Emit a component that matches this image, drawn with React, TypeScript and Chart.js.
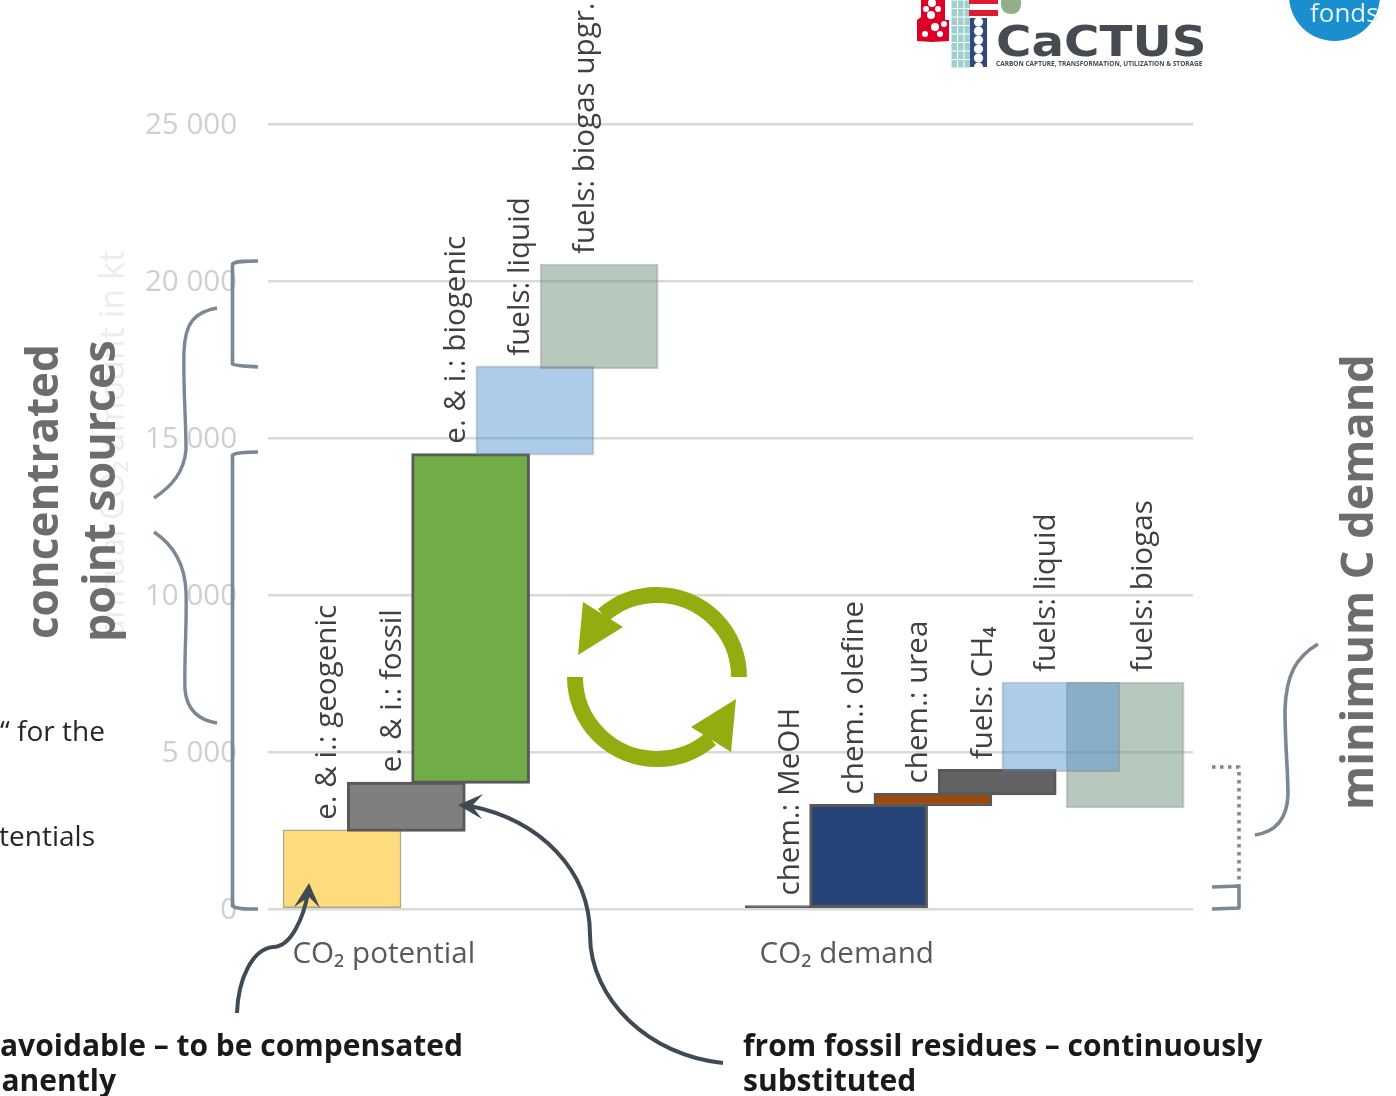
import React, { useEffect, useRef } from "react";
import { Chart, registerables } from "chart.js";

Chart.register(...registerables);

const barLabels = [
  "e. & i.: geogenic",
  "e. & i.: fossil",
  "e. & i.: biogenic",
  "fuels: liquid",
  "fuels: biogas upgr.",
  "chem.: MeOH",
  "chem.: olefine",
  "chem.: urea",
  "fuels: CH₄",
  "fuels: biogas",
  "fuels: liquid",
];
const barPositions = [1, 2, 3, 4, 5, 8.19, 9.19, 10.19, 11.19, 13.18, 12.18];
const barLows = [0, 2470, 4000, 14450, 17200, 0, 0, 3280, 3630, 3220, 4370];
const barHighs = [2520, 4040, 14500, 17300, 20540, 110, 3330, 3680, 4450, 7230, 7230];
const barFills = [
  "#FEDB7C",
  "#7F7F7F",
  "#70AD47",
  "rgba(84,149,211,0.48)",
  "rgba(112,146,124,0.5)",
  "#595959",
  "#264478",
  "#9E480E",
  "#636363",
  "rgba(112,146,124,0.5)",
  "rgba(84,149,211,0.48)",
];
const barEdges = [
  "#ABA791",
  "#595959",
  "#595959",
  "rgba(120,120,120,0.4)",
  "rgba(120,120,120,0.4)",
  "#595959",
  "#595959",
  "#595959",
  "#595959",
  "rgba(120,120,120,0.4)",
  "rgba(120,120,120,0.4)",
];
const barEdgeWidths = [1.5, 3, 3, 1.5, 1.5, 3, 3, 2.5, 3, 1.5, 1.5];
const xTickValues = [1.65, 8.85];
const xTickLabels = ["CO₂ potential", "CO₂ demand"];
const yAxisTitle = "annual CO₂ amount in kt";

const SANS = '"Open Sans", sans-serif';
const STEEL = "#7B8893";
const INK = "#3F4A54";
const SPIN = "#92AD10";

const rotatedText = (ctx: any, text: string, x: number, y: number) => {
  ctx.save();
  ctx.translate(x, y);
  ctx.rotate(-Math.PI / 2);
  ctx.fillText(text, 0, 0);
  ctx.restore();
};

const curve = (ctx: any, points: number[][], width: number, color: string, dash?: number[]) => {
  ctx.save();
  ctx.strokeStyle = color;
  ctx.lineWidth = width;
  ctx.lineCap = "butt";
  ctx.lineJoin = "round";
  if (dash) ctx.setLineDash(dash);
  ctx.beginPath();
  points.forEach((p, i) => {
    if (i === 0) ctx.moveTo(p[0], p[1]);
    else if (p.length === 2) ctx.lineTo(p[0], p[1]);
    else ctx.bezierCurveTo(p[0], p[1], p[2], p[3], p[4], p[5]);
  });
  ctx.stroke();
  ctx.restore();
};

const poly = (ctx: any, points: number[][], color: string) => {
  ctx.fillStyle = color;
  ctx.beginPath();
  points.forEach((p, i) => (i ? ctx.lineTo(p[0], p[1]) : ctx.moveTo(p[0], p[1])));
  ctx.closePath();
  ctx.fill();
};

const drawLogos = (ctx: any) => {
  ctx.save();
  // red blob
  poly(ctx, [[921, 0], [945, 0], [945, 20], [949, 20], [949, 41], [932, 42], [917, 41], [917, 20], [921, 17]], "#DC0028");
  ctx.fillStyle = "#fff";
  [[932, 3, 4], [931, 15, 4], [938, 9, 3], [926, 9, 3], [935, 27, 4], [925, 34, 3], [940, 34, 3], [944, 24, 3]].forEach(([x, y, r]) => {
    ctx.beginPath();
    ctx.arc(x, y, r, 0, Math.PI * 2);
    ctx.fill();
  });
  // teal net
  ctx.fillStyle = "#9DD0CF";
  for (let c = 0; c < 3; c++)
    for (let r = 0; r < 8; r++) ctx.fillRect(951.5 + c * 6.5, r * 8.5 + 0.5, 5.5, 7.5);
  // stripes
  ctx.fillStyle = "#DC1C33";
  ctx.fillRect(969, 0, 29, 4);
  ctx.fillRect(969, 10, 29, 6);
  // green shape
  ctx.fillStyle = "#8FB089";
  ctx.beginPath();
  ctx.moveTo(1001, 0);
  ctx.lineTo(1021, 0);
  ctx.lineTo(1021, 5);
  ctx.quadraticCurveTo(1020, 14, 1011, 14);
  ctx.quadraticCurveTo(1002, 14, 1001, 5);
  ctx.closePath();
  ctx.fill();
  // navy dots
  ctx.fillStyle = "#2F4A7A";
  ctx.fillRect(970, 18, 17, 49);
  ctx.fillStyle = "#fff";
  for (let i = 0; i < 6; i++) {
    ctx.beginPath();
    ctx.arc(978.5, 22 + i * 9, 4.6, 0, Math.PI * 2);
    ctx.fill();
  }
  // word mark
  ctx.fillStyle = "#454B50";
  ctx.save();
  ctx.translate(996, 56);
  ctx.scale(1.15, 1);
  ctx.font = 'bold 42px "DejaVu Sans", sans-serif';
  ctx.textAlign = "left";
  ctx.textBaseline = "alphabetic";
  ctx.fillText("CaCTUS", 0, 0);
  ctx.restore();
  ctx.font = 'bold 6.5px "Open Sans", sans-serif';
  ctx.textAlign = "left";
  ctx.textBaseline = "alphabetic";
  ctx.fillText("CARBON CAPTURE, TRANSFORMATION, UTILIZATION & STORAGE", 996, 66);
  // round badge
  ctx.fillStyle = "#1B8FCD";
  ctx.beginPath();
  ctx.arc(1334.5, -4.5, 45.5, 0, Math.PI * 2);
  ctx.fill();
  ctx.fillStyle = "#E4F2FA";
  ctx.font = '26px "Open Sans", sans-serif';
  ctx.fillText("fonds", 1310, 22);
  ctx.restore();
};

const drawCycle = (ctx: any) => {
  const cx = 657;
  const cy = 677;
  [0, Math.PI].forEach((rot) => {
    ctx.save();
    ctx.translate(cx, cy);
    ctx.rotate(rot);
    ctx.strokeStyle = SPIN;
    ctx.lineWidth = 16;
    ctx.beginPath();
    ctx.arc(0, 0, 82, 0, (-131 * Math.PI) / 180, true);
    ctx.stroke();
    poly(ctx, [[-74, -75], [-79, -22], [-34, -50]], SPIN);
    ctx.restore();
  });
};

const annotations = {
  id: "annotations",
  afterDraw(chart: any) {
    const ctx = chart.ctx;
    ctx.save();

    // bar captions follow the bars
    const bars = chart.getDatasetMeta(0).data;
    ctx.font = `29.6px ${SANS}`;
    ctx.fillStyle = "#404040";
    ctx.textAlign = "left";
    ctx.textBaseline = "middle";
    bars.forEach((el: any, i: number) => {
      const shift = barLabels[i] === "fuels: biogas" ? 18 : -14;
      rotatedText(ctx, barLabels[i], el.x + shift, el.y - 10);
    });

    // faint axis title
    ctx.font = `34px ${SANS}`;
    ctx.fillStyle = "#EDEDED";
    ctx.textAlign = "center";
    ctx.textBaseline = "alphabetic";
    rotatedText(ctx, yAxisTitle, 124, 444);

    // heavy side titles
    ctx.font = `bold 44px ${SANS}`;
    ctx.fillStyle = "#6D6D6D";
    ctx.textAlign = "left";
    rotatedText(ctx, "concentrated", 58, 639);
    ctx.font = `bold 44.8px ${SANS}`;
    rotatedText(ctx, "point sources", 115, 642);
    ctx.font = `bold 45px ${SANS}`;
    rotatedText(ctx, "minimum C demand", 1373, 810);

    // clipped body copy
    ctx.font = `28px ${SANS}`;
    ctx.fillStyle = "#262626";
    ctx.textAlign = "left";
    ctx.fillText("“ for the", 0, 741);
    ctx.textAlign = "right";
    ctx.fillText("potentials", 95, 846);

    ctx.font = `bold 30px ${SANS}`;
    ctx.fillStyle = "#1A1A1A";
    ctx.textAlign = "right";
    ctx.fillText("unavoidable – to be compensated", 463, 1056);
    ctx.fillText("permanently", 116, 1091);
    ctx.textAlign = "left";
    ctx.fillText("from fossil residues – continuously", 743, 1056);
    ctx.fillText("substituted", 743, 1091);

    // square brackets
    curve(ctx, [[258, 261], [245, 261, 236, 261, 232.5, 264], [232.5, 364], [236, 366, 245, 366, 258, 367]], 3.6, STEEL);
    curve(ctx, [[258, 452], [245, 452, 236, 453, 232.5, 455], [232.5, 906], [236, 909, 245, 909, 258, 909]], 3.6, STEEL);

    // curly braces
    curve(ctx, [[217, 308], [195, 312, 185, 322, 184, 352], [183, 385, 186, 420, 186, 450], [184, 472, 172, 486, 154, 498]], 3.4, STEEL);
    curve(ctx, [[154, 532], [175, 546, 185, 565, 186, 592], [187, 625, 184, 660, 185, 690], [187, 710, 198, 720, 217, 723]], 3.4, STEEL);
    curve(ctx, [[1318, 644], [1296, 657, 1286, 675, 1285, 710], [1285, 745, 1288, 770, 1288, 795], [1287, 820, 1275, 832, 1255, 835]], 3.6, STEEL);

    // right-hand bracket
    curve(ctx, [[1212, 767], [1239, 767], [1239, 885]], 3.6, STEEL, [3.5, 4.5]);
    curve(ctx, [[1212, 887], [1239, 886], [1239, 908], [1212, 909]], 3.6, STEEL);

    // arrows
    curve(ctx, [[237, 1013], [238, 980, 252, 949, 273, 947], [292, 947, 304, 915, 308, 893]], 4, INK);
    poly(ctx, [[309, 883], [320, 908], [309, 897], [294, 907]], INK);
    curve(ctx, [[723, 1063], [650, 1056, 590, 1000, 590, 935], [590, 870, 540, 820, 470, 806]], 4, INK);
    poly(ctx, [[458, 805], [483, 794], [472, 806], [482, 819]], INK);

    drawCycle(ctx);
    drawLogos(ctx);
    ctx.restore();
  },
};

export default function App() {
  const ref = useRef<HTMLCanvasElement | null>(null);

  useEffect(() => {
    document.body.style.margin = "0";
    const chart = new Chart(ref.current as HTMLCanvasElement, {
      type: "bar",
      plugins: [annotations],
      data: {
        labels: barLabels,
        datasets: [
          {
            data: barPositions.map((x, i) => ({ x, y: [barLows[i], barHighs[i]] })) as any,
            backgroundColor: barFills,
            borderColor: barEdges,
            borderWidth: barEdgeWidths,
            borderSkipped: false,
            barThickness: 118,
            clip: false,
          } as any,
        ],
      },
      options: {
        animation: false,
        responsive: false,
        events: [],
        layout: { padding: { top: 124, right: 203, left: 0, bottom: 0 } },
        plugins: { legend: { display: false }, tooltip: { enabled: false }, title: { display: false } },
        scales: {
          x: {
            type: "linear",
            offset: false,
            min: -0.151,
            max: 14.235,
            afterBuildTicks: (scale: any) => {
              scale.ticks = xTickValues.map((value) => ({ value }));
            },
            afterFit: (scale: any) => {
              scale.height = 187;
            },
            grid: { display: false },
            border: { display: false },
            ticks: {
              autoSkip: false,
              maxRotation: 0,
              minRotation: 0,
              padding: 20,
              color: "#595959",
              font: { family: "Open Sans", size: 29.6 },
              callback: (_: any, i: number) => xTickLabels[i],
            },
          },
          y: {
            min: 0,
            max: 25000,
            afterFit: (scale: any) => {
              scale.width = 268;
            },
            afterUpdate: (scale: any) => {
              if (scale.__labelsNudged) return;
              scale.__labelsNudged = true;
              const compute = scale._computeLabelItems.bind(scale);
              scale._computeLabelItems = (area: any) =>
                compute(area).map((item: any) => ({
                  ...item,
                  options: {
                    ...item.options,
                    translation: [item.options.translation[0], item.options.translation[1] + 2],
                  },
                }));
            },
            grid: { color: "#D9D9D9", lineWidth: 2.5, drawTicks: false },
            border: { display: false },
            ticks: {
              stepSize: 5000,
              padding: 31,
              color: "#CFCFCF",
              font: { family: "Open Sans", size: 29.5 },
              callback: (v: any) => String(v).replace(/\B(?=(\d{3})+$)/g, " "),
            },
          },
        },
      } as any,
    });
    return () => chart.destroy();
  }, []);

  return (
    <canvas
      ref={ref}
      width={1396}
      height={1096}
      style={{ position: "absolute", left: 0, top: 0, display: "block" }}
    />
  );
}
